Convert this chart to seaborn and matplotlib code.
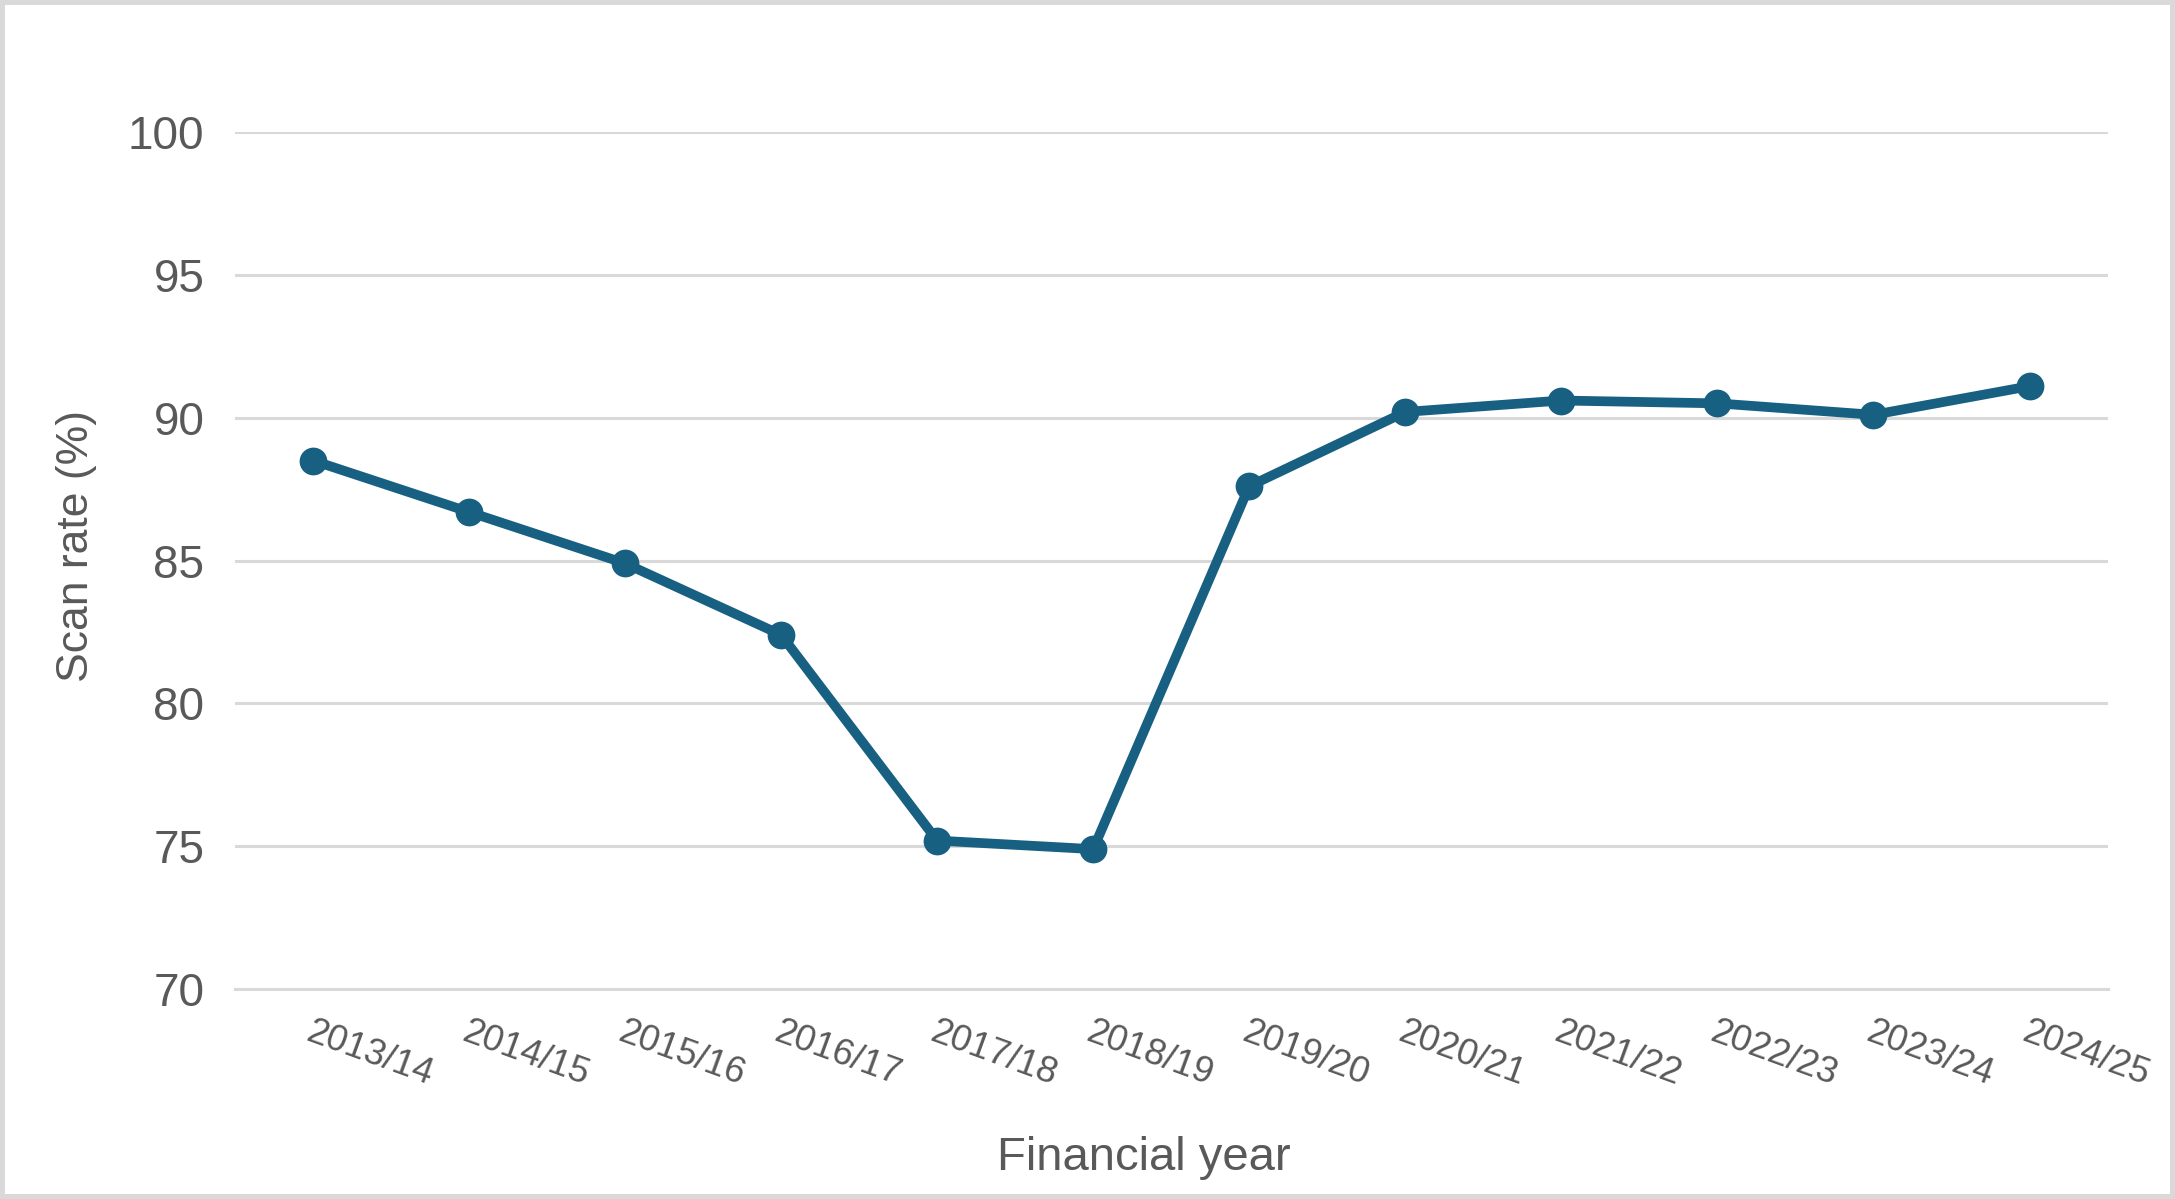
#### Scan rate por ano financeiro ####

import matplotlib
matplotlib.use('Agg')
import matplotlib.pyplot as plt
import seaborn as sns
import pandas as pd

#### Dados ####
anos = ['2013/14', '2014/15', '2015/16', '2016/17', '2017/18', '2018/19',
        '2019/20', '2020/21', '2021/22', '2022/23', '2023/24', '2024/25']
taxa_scan = [88.5, 86.7, 84.9, 82.4, 75.2, 74.9, 87.6, 90.2, 90.6, 90.5, 90.1, 91.1]
ticks_y = [70, 75, 80, 85, 90, 95, 100]

df = pd.DataFrame({'ano': anos, 'taxa': taxa_scan})

sns.set_style('white')
plt.rcParams['font.family'] = ['Liberation Sans', 'DejaVu Sans']

COR_LINHA = '#186082'
COR_TEXTO = '#595959'
COR_GRADE = '#d9d9d9'

fig = plt.figure(figsize=(10.875, 5.995), dpi=200, edgecolor=COR_GRADE, linewidth=3)
ax = fig.add_axes([0.108, 0.175, 0.861, 0.715])

sns.lineplot(data=df, x='ano', y='taxa', sort=False, color=COR_LINHA, linewidth=3.5,
             marker='o', markersize=10, markeredgewidth=0, ax=ax)

ax.set_xlim(-0.5, len(anos) - 0.5)
ax.set_ylim(70, 100)
ax.set_yticks(ticks_y)
ax.grid(axis='y', color=COR_GRADE, linewidth=1.1)
ax.set_axisbelow(True)
for lado in ['top', 'right', 'left']:
    ax.spines[lado].set_visible(False)
ax.spines['bottom'].set_color(COR_GRADE)
ax.spines['bottom'].set_linewidth(1.1)

ax.tick_params(axis='y', length=0, pad=11, labelsize=16.5, labelcolor=COR_TEXTO)
ax.tick_params(axis='x', length=0, pad=9, labelsize=13.2, labelcolor=COR_TEXTO)
for rotulo in ax.get_xticklabels():
    rotulo.set_rotation(-20)
    rotulo.set_ha('left')
    rotulo.set_va('top')
    rotulo.set_rotation_mode('anchor')

ax.set_xlabel('')
ax.set_ylabel('')
fig.text(0.035, 0.545, 'Scan rate (%)', rotation=90, ha='center', va='center',
         fontsize=16, color=COR_TEXTO)
fig.text(0.526, 0.034, 'Financial year', ha='center', va='center',
         fontsize=17, color=COR_TEXTO)

plt.savefig('out.png', dpi=200)
plt.close()
